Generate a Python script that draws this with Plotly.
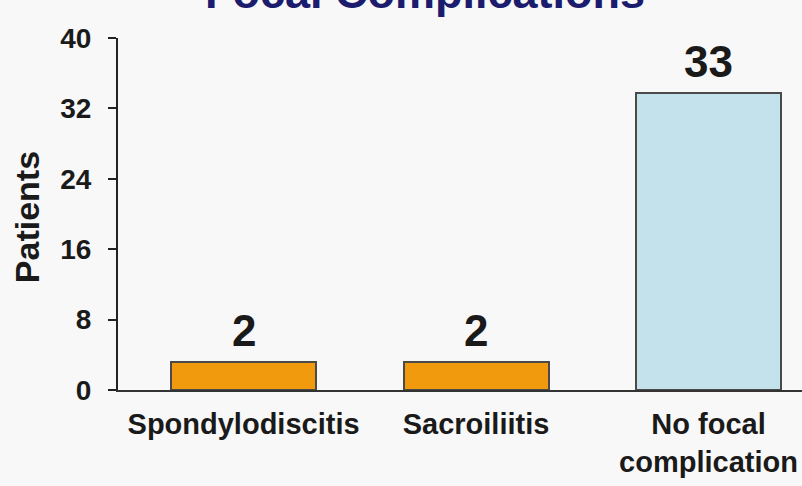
import plotly.graph_objects as go

categories = ["Spondylodiscitis", "Sacroiliitis", "No focal<br>complication"]
bar_heights = [3.2, 3.2, 33.8]
bar_labels = ["2", "2", "33"]
bar_colors = ["#f29a0e", "#f29a0e", "#c3e2ec"]
y_ticks = [0, 8, 16, 24, 32, 40]
title_text = "Focal Complications"
y_title = "Patients"

FONT = "Liberation Sans, Arial, sans-serif"

fig = go.Figure()
fig.add_trace(go.Bar(
    x=[0, 1, 2],
    y=bar_heights,
    width=0.624,
    marker=dict(color=bar_colors, line=dict(color="#4a4a4a", width=2)),
    cliponaxis=False,
    hoverinfo="skip",
))

annotations = []
for i, (h, lab) in enumerate(zip(bar_heights, bar_labels)):
    annotations.append(dict(
        x=i, y=h, xref="x", yref="y", text=lab, showarrow=False,
        xanchor="center", yanchor="bottom", yshift=5,
        font=dict(family=FONT, size=44, color="#1a1a1a", weight="bold"),
    ))
annotations.append(dict(
    text=title_text, xref="paper", yref="paper", x=0.449, y=1.05,
    xanchor="center", yanchor="bottom", showarrow=False,
    font=dict(family=FONT, size=45, color="#1c1c6e", weight="bold"),
))
annotations.append(dict(
    text=y_title, xref="paper", yref="paper", x=-0.133, y=0.491,
    xanchor="center", yanchor="middle", showarrow=False, textangle=-90,
    font=dict(family=FONT, size=34, color="#1a1a1a", weight="bold"),
))

fig.update_layout(
    width=802, height=486,
    margin=dict(l=118, r=0, t=38, b=96),
    paper_bgcolor="#f8f8f8",
    plot_bgcolor="#f8f8f8",
    showlegend=False,
    bargap=0,
    font=dict(family=FONT, color="#1a1a1a"),
    xaxis=dict(
        tickmode="array", tickvals=[0, 1, 2], ticktext=categories,
        range=[-0.540, 2.402],
        showline=True, linecolor="#333333", linewidth=2,
        ticks="", showgrid=False, zeroline=False,
        tickfont=dict(family=FONT, size=29, color="#1a1a1a", weight="bold"),
        ticklabelstandoff=7,
    ),
    yaxis=dict(
        range=[0, 40], tickvals=y_ticks,
        showline=True, linecolor="#222222", linewidth=2,
        ticks="outside", ticklen=8, tickwidth=2, tickcolor="#222222",
        showgrid=False, zeroline=False,
        tickfont=dict(family=FONT, size=28, color="#1a1a1a", weight="bold"),
        ticklabelstandoff=11,
    ),
    annotations=annotations,
)

fig.write_html(
    "out.html",
    config={"displayModeBar": False},
    post_script="document.body.style.margin='0';document.body.style.padding='0';",
)
